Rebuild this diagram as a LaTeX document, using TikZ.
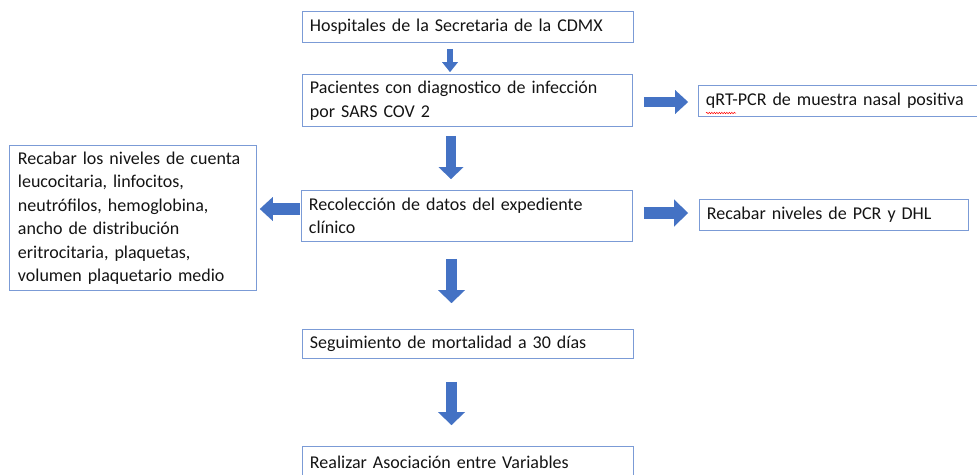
\documentclass[tikz,border=0pt]{standalone}
\usepackage{fontspec}
\setmainfont{Carlito}[WordSpace={0.75,0.5,0.5}]
\usetikzlibrary{arrows.meta,calc,decorations.pathmorphing}
\definecolor{boxline}{HTML}{7B9BD6}
\definecolor{arrowblue}{HTML}{4472C4}
\definecolor{txt}{HTML}{141414}
\tikzset{
  box/.style n args={2}{draw=boxline, line width=0.9pt, anchor=north west,
    minimum width=#1, minimum height=#2, text width=#1-15pt, inner xsep=7.5pt, inner ysep=0pt,
    align=left, text=txt, font=\fontsize{18}{23.5}\selectfont},
  barrow/.style n args={3}{draw=arrowblue, line width=#1,
    -{Triangle[width=#2,length=#3,line width=0.01pt]}},
}
\begin{document}
\begin{tikzpicture}[x=1pt,y=-1pt]
\useasboundingbox (0,0) rectangle (977,474);
% boxes
\node[box={331pt}{31pt}] (b1) at (302,11) {Hospitales de la Secretaria de la CDMX};
\node[box={330pt}{52pt}] (b2) at (302,74) {Pacientes con diagnostico de infección\\por SARS COV 2};
\node[box={312pt}{31pt}] (b3) at (698,85) {qRT-PCR de muestra nasal positiva};
\node[box={245pt}{145pt}, inner xsep=8.5pt] (b4) at (9,145) {Recabar los niveles de cuenta\\leucocitaria, linfocitos,\\neutrófilos, hemoglobina,\\ancho de distribución\\eritrocitaria, plaquetas,\\volumen plaquetario medio};
\node[box={331pt}{51pt}] (b5) at (301,190) {Recolección de datos del expediente\\clínico};
\node[box={269pt}{31pt}] (b6) at (699,199) {Recabar niveles de PCR y DHL};
\node[box={331pt}{29pt}] (b7) at (302,329) {Seguimiento de mortalidad a 30 días};
\node[box={331pt}{32pt}] (b8) at (302,446) {Realizar Asociación entre Variables};
% spell-check squiggle
\draw[red, line width=0.5pt, decorate, decoration={snake, amplitude=0.7pt, segment length=2.5pt}]
  ($(b3.north west)+(8,28)$) -- ($(b3.north west)+(38,28)$);
% axis coordinates for arrows
\coordinate (ax1) at (450,0);
\coordinate (ax2) at (451,0);
\coordinate (ax3) at (451.5,0);
\coordinate (ry1) at (0,102);
\coordinate (ry2) at (0,213);
\coordinate (ry3) at (0,209);
% arrows
\draw[barrow={6pt}{16pt}{10pt}, shorten <=6pt, shorten >=2pt] (b1.south -| ax1) -- (b2.north -| ax1);
\draw[barrow={10pt}{25pt}{12pt}, shorten <=9pt, shorten >=11pt] (b2.south -| ax2) -- (b5.north -| ax2);
\draw[barrow={11pt}{27pt}{13pt}, shorten <=17pt, shorten >=26pt] (b5.south -| ax3) -- (b7.north -| ax3);
\draw[barrow={11pt}{27pt}{13pt}, shorten <=23pt, shorten >=21pt] (b7.south -| ax3) -- (b8.north -| ax3);
\draw[barrow={10pt}{24pt}{13pt}, shorten <=11pt, shorten >=10pt] (b2.east |- ry1) -- (b3.west |- ry1);
\draw[barrow={12pt}{27pt}{14pt}, shorten <=11pt, shorten >=11pt] (b5.east |- ry2) -- (b6.west |- ry2);
\draw[barrow={12pt}{24pt}{13pt}, shorten <=1pt, shorten >=3pt] (b5.west |- ry3) -- (b4.east |- ry3);
\end{tikzpicture}
\end{document}
